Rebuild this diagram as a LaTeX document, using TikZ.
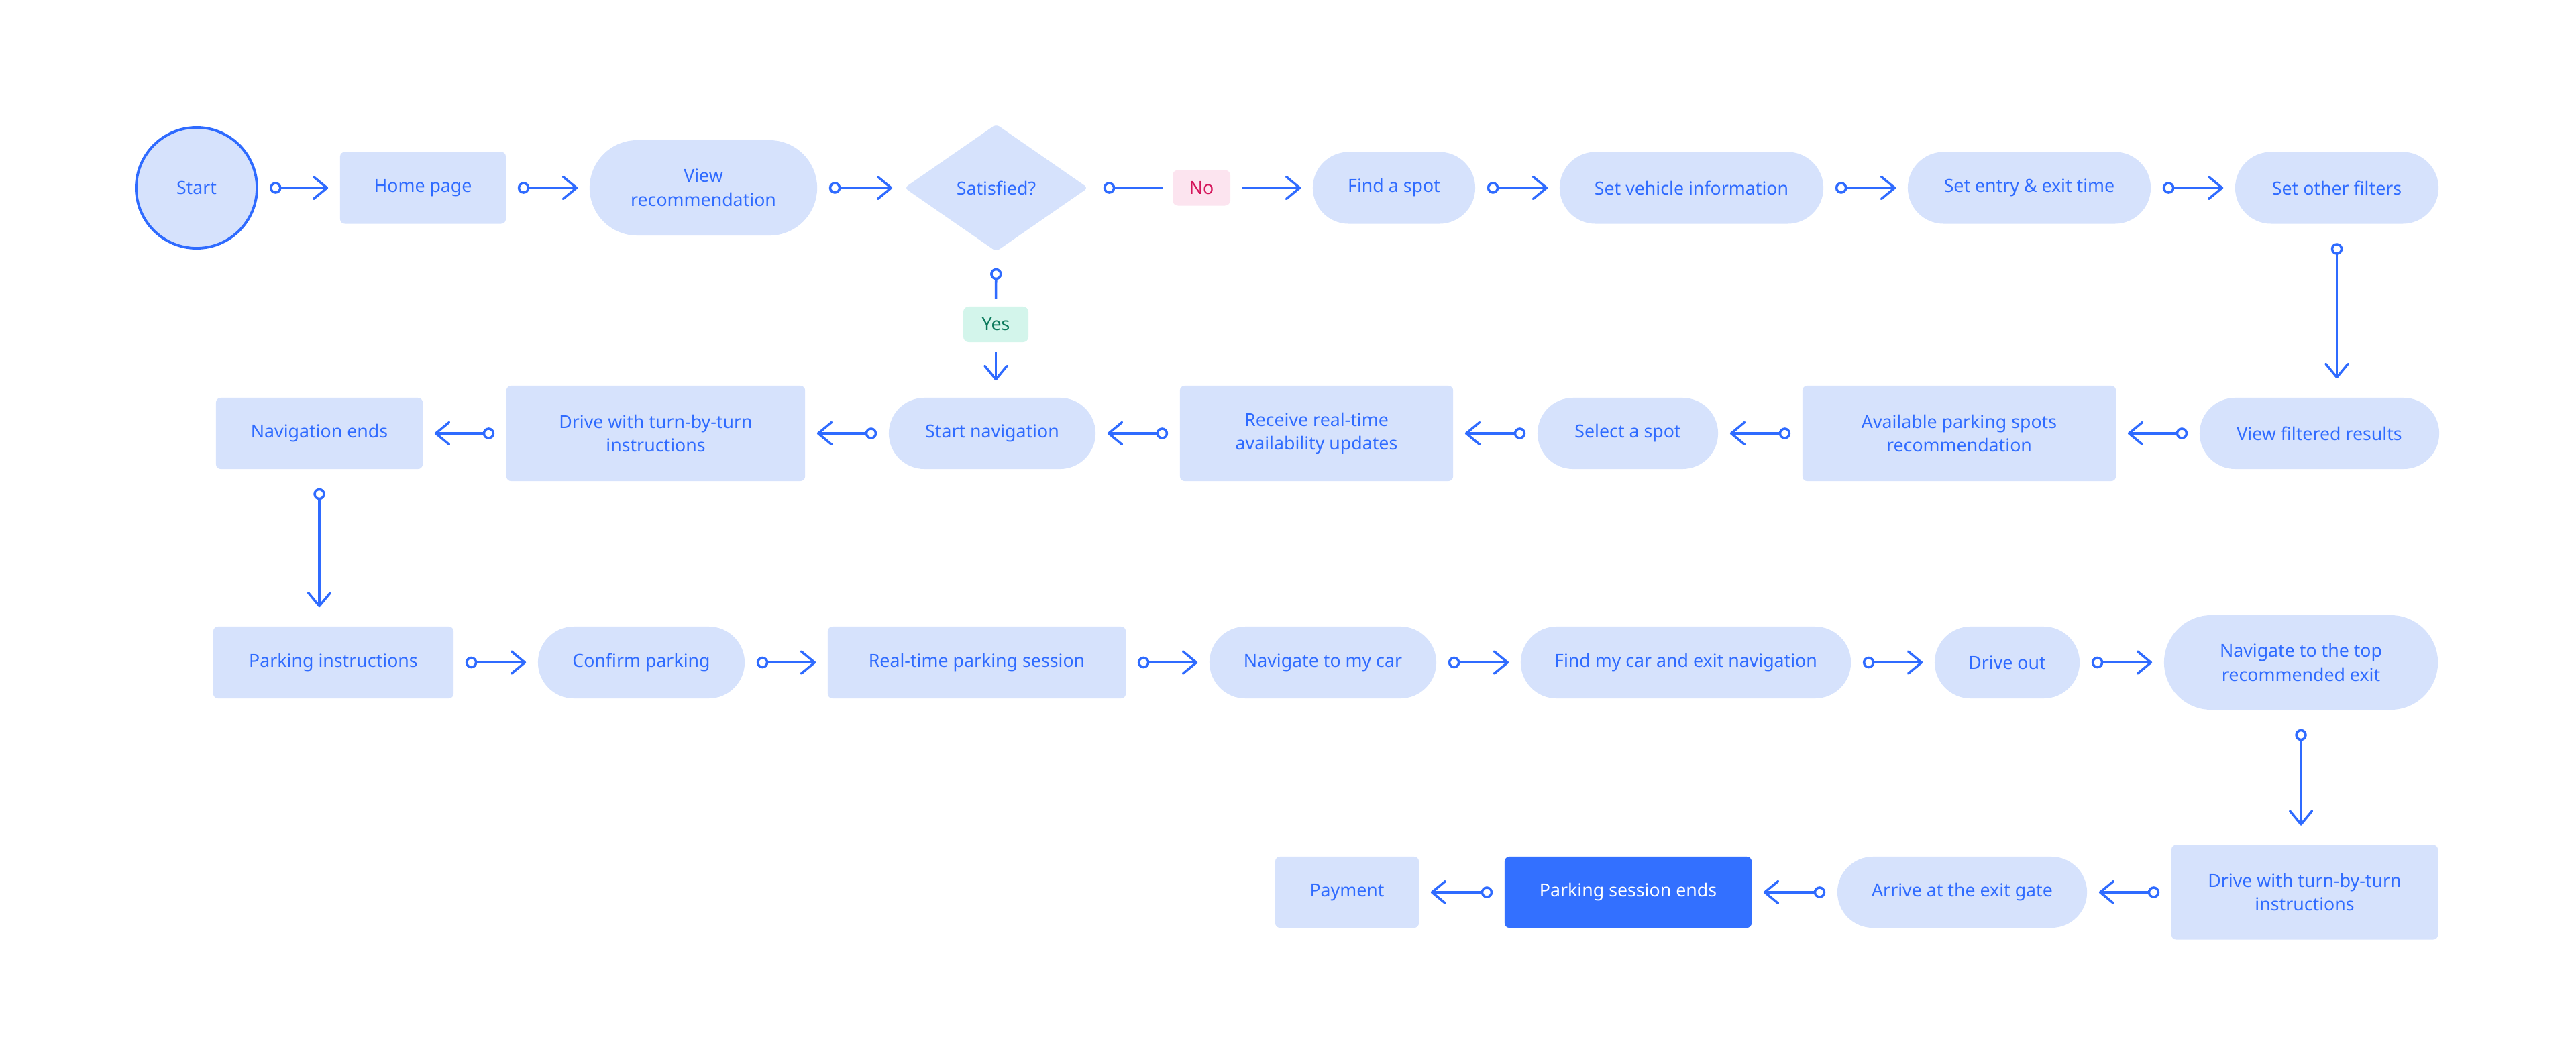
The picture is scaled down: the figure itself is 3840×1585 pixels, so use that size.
\documentclass[tikz,border=0pt]{standalone}
\usepackage{fontspec}
\setmainfont{Noto Sans}
\usetikzlibrary{arrows.meta,shapes.geometric}
\definecolor{flowblue}{HTML}{2F6BFF}
\definecolor{stepfill}{HTML}{D6E2FC}
\definecolor{stepdark}{HTML}{3370FF}
\definecolor{nofill}{HTML}{FCE4EF}
\definecolor{notext}{HTML}{D4145A}
\definecolor{yesfill}{HTML}{D3F5EB}
\definecolor{yestext}{HTML}{0B7A5C}
\tikzset{
	steptext/.style={font=\fontsize{7.6pt}{10.2pt}\selectfont,align=center,inner sep=0pt},
	box/.style 2 args={steptext,rectangle,rounded corners=0.07cm,fill=stepfill,text=flowblue,minimum width=#1,minimum height=#2},
	pill/.style 2 args={box={#1}{#2},rounded corners=0.5*#2},
	darkbox/.style 2 args={box={#1}{#2},fill=stepdark,text=white},
	decision/.style 2 args={steptext,diamond,fill=stepfill,text=flowblue,minimum width=#1,minimum height=#2,rounded corners=0.06cm},
	terminal/.style={steptext,circle,fill=stepfill,draw=flowblue,line width=1.1pt,text=flowblue,minimum size=#1},
	tag/.style 2 args={steptext,rounded corners=0.08cm,minimum height=0.53cm,fill=#1,text=#2},
	ring/.tip={Circle[open,length=1.75mm,width=1.75mm]},
	barb/.tip={Straight Barb[length=2mm,width=3.3mm,round]},
	wire/.style={draw=flowblue,line width=1pt},
	flow/.style={wire,ring-barb,shorten <=0.17cm,shorten >=0.17cm},
	vflow/.style={wire,ring-barb,shorten <=0.28cm,shorten >=0.28cm}
}
\begin{document}
\begin{tikzpicture}[x=0.01cm,y=-0.01cm]
	\useasboundingbox (0,0) rectangle (3840,1585);

	\node [terminal=1.8cm] (start) at (293, 280) {Start};
	\node [box={2.47cm}{1.07cm}] (home) at (630.5, 280) {Home page};
	\node [pill={3.39cm}{1.42cm}] (viewrec) at (1048.5, 280) {View\\recommendation};
	\node [decision={2.74cm}{1.9cm}] (sat) at (1485, 280) {Satisfied?};
	\node [tag={nofill}{notext},minimum width=0.86cm] (no) at (1791, 280) {No};
	\node [pill={2.42cm}{1.07cm}] (find) at (2078, 280) {Find a spot};
	\node [pill={3.93cm}{1.07cm}] (vehicle) at (2521.5, 280) {Set vehicle information};
	\node [pill={3.62cm}{1.07cm}] (entry) at (3025, 280) {Set entry \& exit time};
	\node [pill={3.03cm}{1.07cm}] (filters) at (3483.5, 280) {Set other filters};
	\node [tag={yesfill}{yestext},minimum width=0.97cm] (yes) at (1484.5, 483.5) {Yes};

	\node [box={3.08cm}{1.06cm}] (navends) at (476, 646) {Navigation ends};
	\node [box={4.45cm}{1.42cm}] (drive) at (977.5, 646) {Drive with turn-by-turn\\instructions};
	\node [pill={3.08cm}{1.06cm}] (startnav) at (1479, 646) {Start navigation};
	\node [box={4.07cm}{1.42cm}] (receive) at (1962.5, 646) {Receive real-time\\availability updates};
	\node [pill={2.69cm}{1.06cm}] (select) at (2426.5, 646) {Select a spot};
	\node [box={4.67cm}{1.42cm}] (avail) at (2920.5, 646) {Available parking spots\\recommendation};
	\node [pill={3.57cm}{1.06cm}] (viewfilt) at (3457.5, 646) {View filtered results};

	\node [box={3.58cm}{1.07cm}] (parkinstr) at (497, 987.5) {Parking instructions};
	\node [pill={3.08cm}{1.07cm}] (confirm) at (956, 987.5) {Confirm parking};
	\node [box={4.44cm}{1.07cm}] (session) at (1456, 987.5) {Real-time parking session};
	\node [pill={3.38cm}{1.07cm}] (navcar) at (1972, 987.5) {Navigate to my car};
	\node [pill={4.92cm}{1.07cm}] (findcar) at (2513, 987.5) {Find my car and exit navigation};
	\node [pill={2.16cm}{1.07cm}] (driveout) at (2992, 987.5) {Drive out};
	\node [pill={4.08cm}{1.41cm}] (navtop) at (3430, 987.5) {Navigate to the top\\recommended exit};

	\node [box={2.14cm}{1.06cm}] (payment) at (2008, 1330) {Payment};
	\node [darkbox={3.68cm}{1.06cm}] (ends) at (2427, 1330) {Parking session ends};
	\node [pill={3.72cm}{1.06cm}] (arrive) at (2925, 1330) {Arrive at the exit gate};
	\node [box={3.97cm}{1.41cm}] (drivetwo) at (3435.5, 1330) {Drive with turn-by-turn\\instructions};

	\draw [flow] (start) -- (home);
	\draw [flow] (home) -- (viewrec);
	\draw [flow] (viewrec) -- (sat);
	\draw [wire,ring-,shorten <=0.22cm,shorten >=0.14cm] (sat) -- (no);
	\draw [wire,-barb,shorten <=0.16cm,shorten >=0.17cm] (no) -- (find);
	\draw [flow] (find) -- (vehicle);
	\draw [flow] (vehicle) -- (entry);
	\draw [flow] (entry) -- (filters);
	\draw [vflow] (filters.south) -- (filters.south |- viewfilt.north);
	\draw [wire,ring-,shorten <=0.24cm,shorten >=0.11cm] (sat.south) -- (yes.north);
	\draw [wire,-barb,shorten <=0.14cm,shorten >=0.25cm] (yes.south) -- (yes.south |- startnav.north);

	\draw [flow] (viewfilt) -- (avail);
	\draw [flow] (avail) -- (select);
	\draw [flow] (select) -- (receive);
	\draw [flow] (receive) -- (startnav);
	\draw [flow] (startnav) -- (drive);
	\draw [flow] (drive) -- (navends);
	\draw [vflow] (navends.south) -- (navends.south |- parkinstr.north);

	\draw [flow] (parkinstr) -- (confirm);
	\draw [flow] (confirm) -- (session);
	\draw [flow] (session) -- (navcar);
	\draw [flow] (navcar) -- (findcar);
	\draw [flow] (findcar) -- (driveout);
	\draw [flow] (driveout) -- (navtop);
	\draw [vflow] (navtop.south) -- (navtop.south |- drivetwo.north);

	\draw [flow] (drivetwo) -- (arrive);
	\draw [flow] (arrive) -- (ends);
	\draw [flow] (ends) -- (payment);
\end{tikzpicture}
\end{document}
